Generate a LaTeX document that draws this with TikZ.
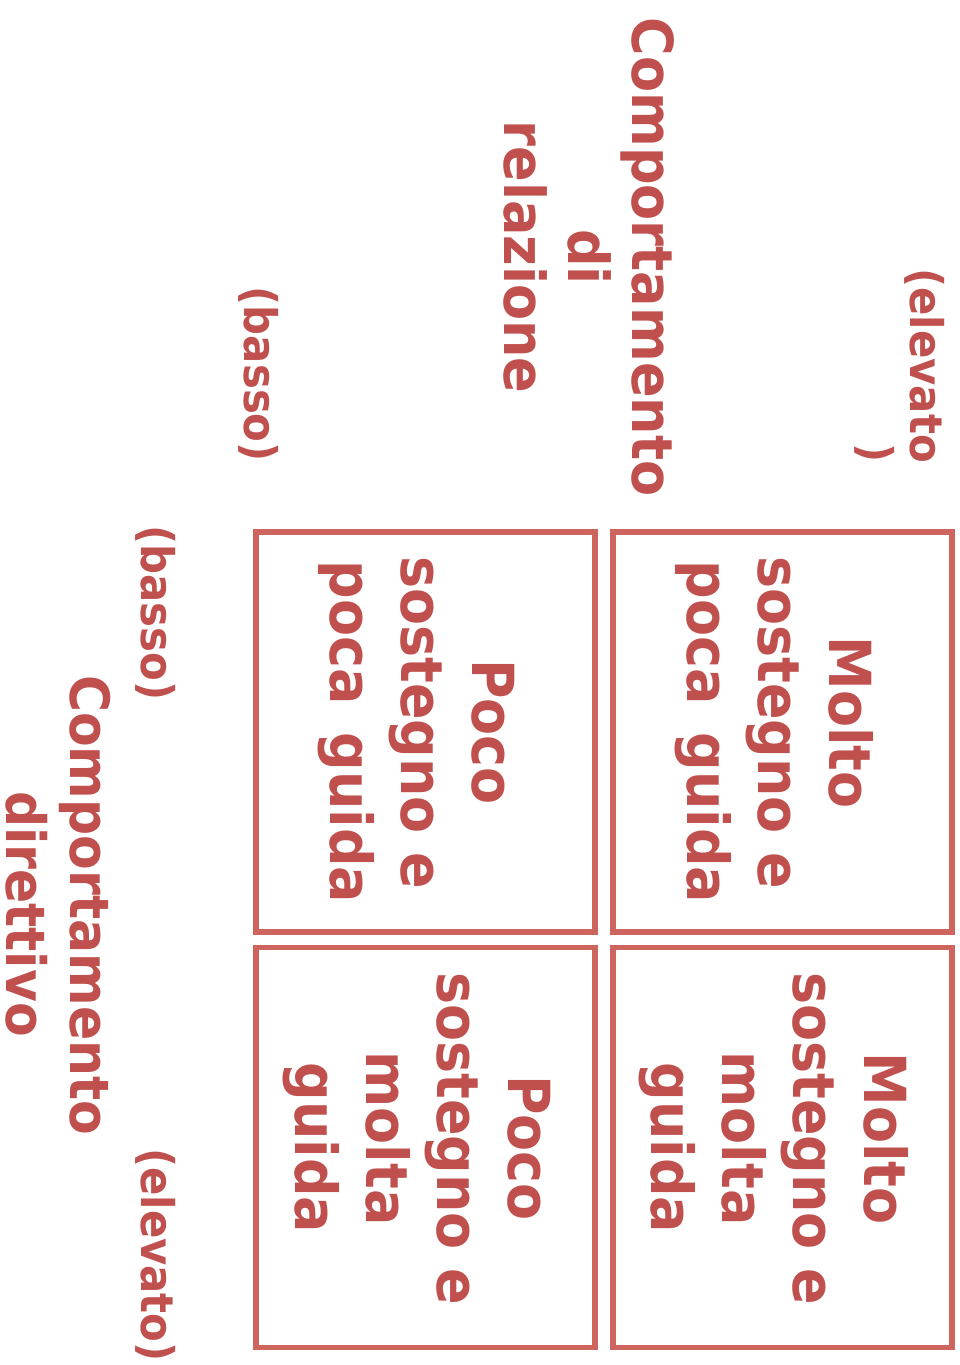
\documentclass[tikz,border=0pt]{standalone}
\usepackage{fontspec}
\newfontfamily\dv{DejaVu Sans}[FakeStretch=0.93]
\definecolor{txt}{RGB}{192,80,77}
\definecolor{brd}{RGB}{206,100,94}
\newcommand\tsp{\mbox{\ }}
\newcommand\wsp{\hspace{0.48em}}
\begin{document}
\begin{tikzpicture}[x=1pt,y=-1pt,
  quad/.style={draw=brd,line width=5.5pt,inner sep=0pt,minimum width=339pt,minimum height=400pt},
  boxtext/.style={text=txt,font=\dv\bfseries\fontsize{58}{71}\selectfont,align=center,rotate=-90,inner sep=0pt,anchor=center},
  axlab/.style={text=txt,font=\dv\bfseries\fontsize{#1}{64}\selectfont,align=center,rotate=-90,inner sep=0pt,anchor=center},
  endlab/.style={text=txt,font=\dv\bfseries\fontsize{45}{50}\selectfont,align=right,rotate=-90,inner sep=0pt}]
\useasboundingbox (0,0) rectangle (959,1365);
% quadrants
\node[quad] (tr) at (782.5,732) {};
\node[quad] (tl) at (425.5,732) {};
\node[quad] (br) at (782.5,1147.5) {};
\node[quad] (bl) at (425.5,1147.5) {};
% quadrant texts
\node[boxtext] (trt) at (774.4,732) {Molto\tsp\\sostegno e\tsp\\poca\wsp guida};
\node[boxtext] (tlt) at (416,732) {Poco\\sostegno e\tsp\\poca\wsp guida};
\node[boxtext] (brt) at (773.7,1148) {Molto\tsp\\sostegno e\tsp\\molta\tsp\\guida};
\node[boxtext] (blt) at (417,1148) {Poco\\sostegno e\tsp\\molta\tsp\\guida};
% axis labels
\node[axlab=56.5] (rel) at (588.7,257) {Comportamento\\di\\relazione};
\node[axlab=54.3] (dir) at (58.6,914) {Comportamento\tsp\\direttivo};
\node[endlab,anchor=north east] (relhi) at (945,463) {(elevato\\)};
\node[endlab,anchor=base east] (rello) at (244,462) {(basso)};
\node[endlab,anchor=base west] (dirlo) at (141,525) {(basso)};
\node[endlab,anchor=base east] (dirhi) at (141,1362) {(elevato)};
\end{tikzpicture}
\end{document}
